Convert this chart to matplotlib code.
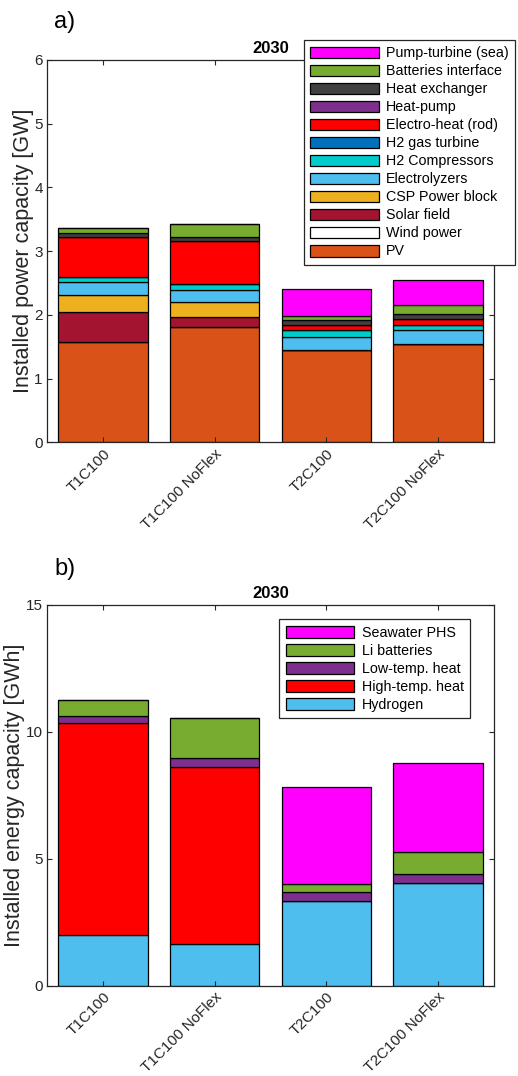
import matplotlib
matplotlib.use("Agg")
import matplotlib.pyplot as plt
import matplotlib.transforms as mtransforms
import numpy as np

plt.rcParams['font.family'] = ['Liberation Sans', 'DejaVu Sans']

scenarios = ["T1C100", "T1C100 NoFlex", "T2C100", "T2C100 NoFlex"]

# Installed power capacity [GW], stacked from bottom to top
power_labels = ["PV", "Wind power", "Solar field", "CSP Power block", "Electrolyzers",
                "H2 Compressors", "H2 gas turbine", "Electro-heat (rod)", "Heat-pump",
                "Heat exchanger", "Batteries interface", "Pump-turbine (sea)"]
pv = [1.58, 1.81, 1.45, 1.54]
wind = [0.0, 0.0, 0.0, 0.0]
solar_field = [0.47, 0.16, 0.0, 0.0]
csp_block = [0.27, 0.23, 0.0, 0.0]
electrolyzers = [0.19, 0.19, 0.21, 0.22]
h2_compressors = [0.09, 0.09, 0.10, 0.09]
h2_turbine = [0.0, 0.0, 0.0, 0.0]
electro_heat = [0.63, 0.68, 0.08, 0.09]
heat_pump = [0.0, 0.0, 0.0, 0.0]
heat_exchanger = [0.06, 0.07, 0.08, 0.08]
battery_interface = [0.08, 0.19, 0.06, 0.14]
pump_turbine = [0.0, 0.0, 0.43, 0.39]
power_colors = ["#D95319", "#FFFFFF", "#A2142F", "#EDB120", "#4DBEEE", "#00CCCC",
                "#0072BD", "#FF0000", "#7E2F8E", "#404040", "#77AC30", "#FF00FF"]

# Installed energy capacity [GWh], stacked from bottom to top
energy_labels = ["Hydrogen", "High-temp. heat", "Low-temp. heat", "Li batteries", "Seawater PHS"]
hydrogen = [1.98, 1.63, 3.32, 4.03]
high_temp = [8.35, 6.99, 0.0, 0.0]
low_temp = [0.30, 0.33, 0.38, 0.38]
li_batt = [0.62, 1.60, 0.29, 0.85]
seawater = [0.0, 0.0, 3.82, 3.52]
energy_colors = ["#4DBEEE", "#FF0000", "#7E2F8E", "#77AC30", "#FF00FF"]

power_series = [pv, wind, solar_field, csp_block, electrolyzers, h2_compressors,
                h2_turbine, electro_heat, heat_pump, heat_exchanger,
                battery_interface, pump_turbine]
energy_series = [hydrogen, high_temp, low_temp, li_batt, seawater]

W, H = 518, 1076
fig = plt.figure(figsize=(W / 100, H / 100), dpi=100)

ax1 = fig.add_axes([47 / W, 1 - 442.5 / H, 447 / W, 382.5 / H])
ax2 = fig.add_axes([47 / W, 1 - 985.7 / H, 447 / W, 381 / H])

axcol = "#262626"
tick_fs = 11


def stacked(ax, series, colors, labels):
    x = np.arange(1, len(scenarios) + 1)
    bottom = np.zeros(len(scenarios))
    handles = []
    for vals, c, lab in zip(series, colors, labels):
        v = np.array(vals)
        h = ax.bar(x, v, 0.8, bottom=bottom, color=c, edgecolor="black",
                   linewidth=0.9, label=lab)
        handles.append(h)
        bottom = bottom + v
    ax.set_xlim(0.5, 4.5)
    ax.set_xticks(x)
    ax.set_xticklabels(scenarios, rotation=45, ha="right", rotation_mode="anchor",
                       fontsize=tick_fs, color=axcol)
    shift = mtransforms.ScaledTranslation(3 / 100, 0, fig.dpi_scale_trans)
    for lab in ax.get_xticklabels():
        lab.set_transform(lab.get_transform() + shift)
    ax.tick_params(axis="both", direction="in", length=3.5, width=0.8,
                   top=True, right=True, colors=axcol, labelsize=tick_fs)
    ax.tick_params(axis="x", pad=3)
    ax.tick_params(axis="y", pad=3)
    for s in ax.spines.values():
        s.set_color(axcol)
        s.set_linewidth(0.9)
    ax.set_title("2030", fontsize=12, fontweight="bold", pad=5)
    return handles


h1 = stacked(ax1, power_series, power_colors, power_labels)
ax1.set_ylim(0, 6)
ax1.set_yticks(range(0, 7))
ax1.set_ylabel("Installed power capacity [GW]", fontsize=15.5, color=axcol, labelpad=0.5)

h2 = stacked(ax2, energy_series, energy_colors, energy_labels)
ax2.set_ylim(0, 15)
ax2.set_yticks([0, 5, 10, 15])
ax2.set_ylabel("Installed energy capacity [GWh]", fontsize=15.5, color=axcol, labelpad=0.5)

leg_kw = dict(fontsize=10.3, handlelength=4.8, handleheight=0.9, labelspacing=0.28,
              handletextpad=0.5, borderpad=0.45, borderaxespad=0,
              fancybox=False, framealpha=1, edgecolor=axcol)

leg1 = fig.legend(h1[::-1], power_labels[::-1], loc="upper left",
                  bbox_to_anchor=(304 / W, 1 - 40 / H), **leg_kw)
leg1.get_frame().set_linewidth(0.9)

leg2 = ax2.legend(h2[::-1], energy_labels[::-1], loc="upper left",
                  bbox_to_anchor=((279.3 - 47) / 447, 1 - (619.3 - 604.7) / 381),
                  **leg_kw)
leg2.get_frame().set_linewidth(0.9)

fig.text(54 / W, 1 - 22 / H, "a)", fontsize=17, va="center", ha="left")
fig.text(54 / W, 1 - 569 / H, "b)", fontsize=17, va="center", ha="left")

fig.savefig("out.png", dpi=100, facecolor="white")
